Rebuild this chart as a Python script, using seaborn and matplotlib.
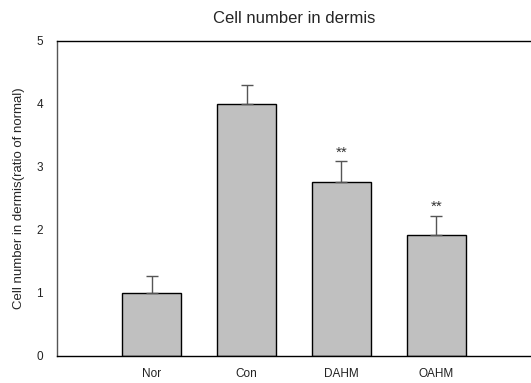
import matplotlib
matplotlib.use("Agg")
import matplotlib.pyplot as plt
import seaborn as sns
import numpy as np

groups = ["Nor", "Con", "DAHM", "OAHM"]
means = [1.00, 4.00, 2.76, 1.92]
errors = [0.27, 0.30, 0.34, 0.31]
marks = ["", "", "**", "**"]

sns.set_style("white")
plt.rcParams["font.family"] = ["Liberation Sans", "DejaVu Sans"]

fig = plt.figure(figsize=(5.31, 3.83), dpi=100)
ax = fig.add_axes([0.1073, 0.0705, 0.8927, 0.8225])

sns.barplot(x=groups, y=means, color="#c0c0c0", edgecolor="black",
            linewidth=1.0, width=0.62, saturation=1, ax=ax)

xpos = np.arange(len(groups))
ax.errorbar(xpos, means, yerr=[np.zeros(len(means)), errors], fmt="none",
            ecolor="#555555", elinewidth=1.0, capsize=4, capthick=1.0, zorder=1)

for x, m, e, s in zip(xpos, means, errors, marks):
    if s:
        ax.text(x, m + e + 0.02, s, ha="center", va="bottom", fontsize=11,
                color="#333333")

ax.set_xlim(-1, 4)
ax.set_ylim(0, 5)
ax.set_yticks([0, 1, 2, 3, 4, 5])
ax.set_title("Cell number in dermis", fontsize=12, pad=13)
ax.set_ylabel("Cell number in dermis(ratio of normal)", fontsize=9.5, labelpad=8)
ax.set_xlabel("")

for side in ["top", "bottom"]:
    ax.spines[side].set_visible(True)
    ax.spines[side].set_color("black")
    ax.spines[side].set_linewidth(1.0)
ax.spines["left"].set_color("#555555")
ax.spines["left"].set_linewidth(1.0)
ax.spines["right"].set_visible(False)

ax.tick_params(axis="both", which="major", length=4, width=0.8,
               color="#555555", labelsize=8.5, labelcolor="#222222")
ax.tick_params(axis="x", pad=5)
ax.tick_params(axis="y", pad=6)
ax.grid(False)

fig.savefig("out.png", dpi=100)
